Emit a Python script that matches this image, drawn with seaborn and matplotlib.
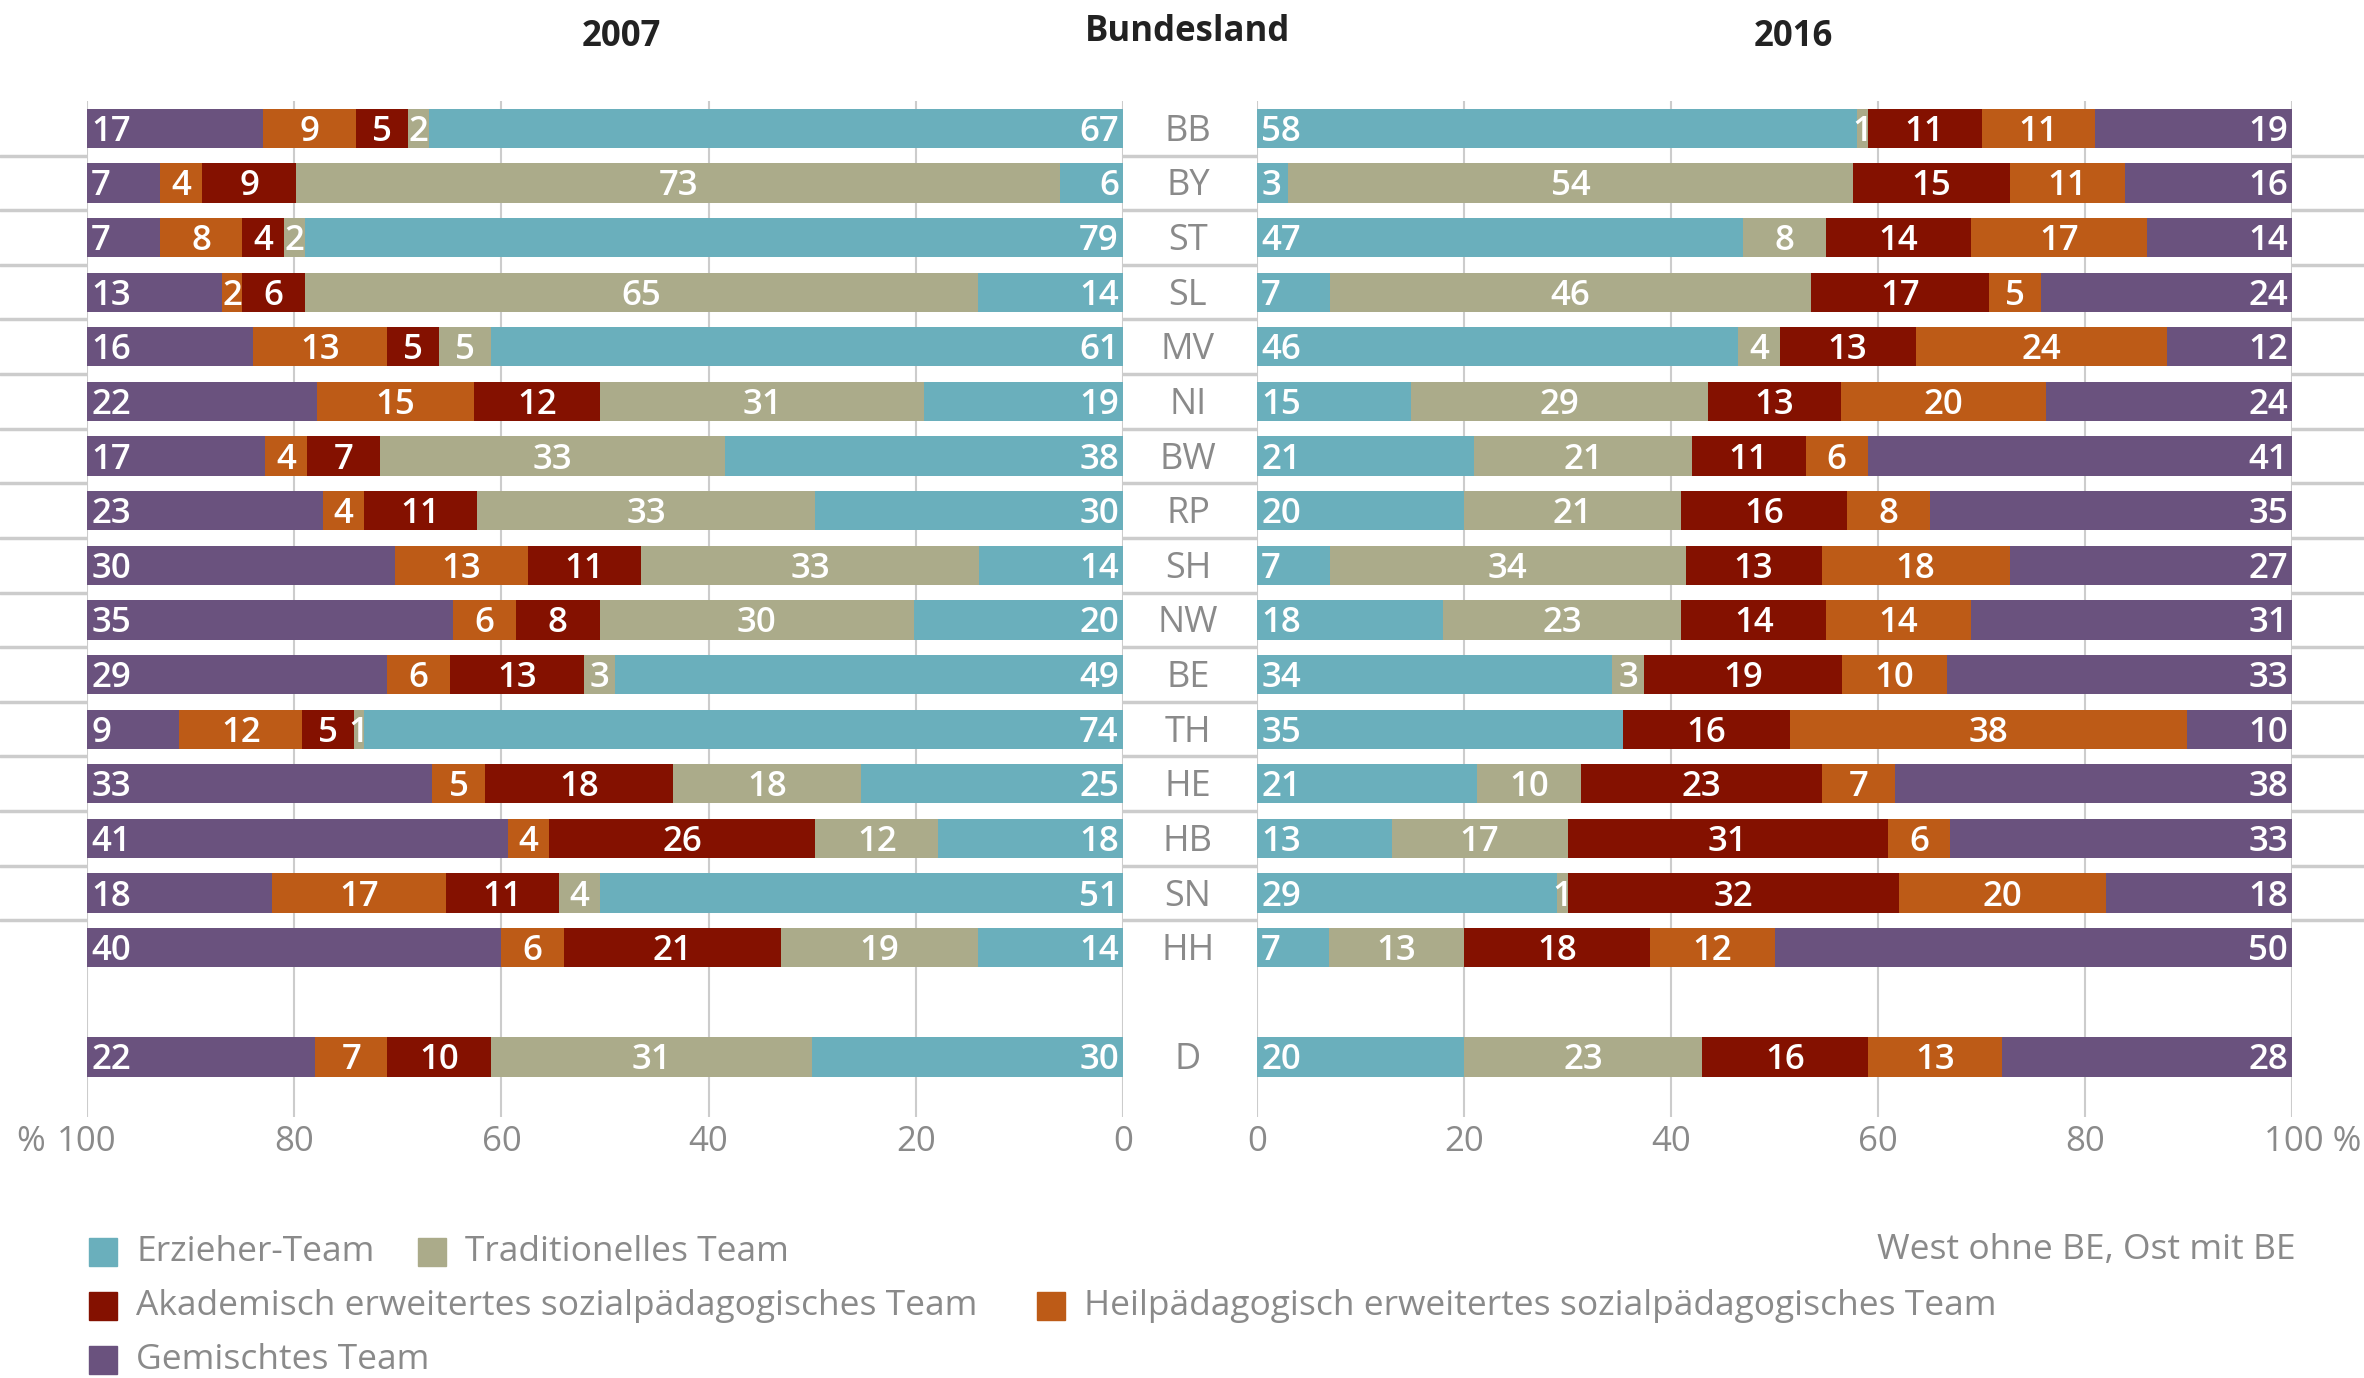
import numpy as np
import pandas as pd
import seaborn as sns
import matplotlib.pyplot as plt
import matplotlib.transforms as mtransforms
from matplotlib.lines import Line2D
from matplotlib.patches import Rectangle

# Daten
laender = ['BB', 'BY', 'ST', 'SL', 'MV', 'NI', 'BW', 'RP', 'SH', 'NW',
           'BE', 'TH', 'HE', 'HB', 'SN', 'HH', 'D']
teams = ['Erzieher-Team', 'Traditionelles Team',
         'Akademisch erweitertes sozialpädagogisches Team',
         'Heilpädagogisch erweitertes sozialpädagogisches Team',
         'Gemischtes Team']
farben = ['#6aafbc', '#abab8a', '#841100', '#bd5b17', '#6a527e']

erzieher_2007 = [67, 6, 79, 14, 61, 19, 38, 30, 14, 20, 49, 74, 25, 18, 51, 14, 30]
tradition_2007 = [2, 73, 2, 65, 5, 31, 33, 33, 33, 30, 3, 1, 18, 12, 4, 19, 31]
akadem_2007 = [5, 9, 4, 6, 5, 12, 7, 11, 11, 8, 13, 5, 18, 26, 11, 21, 10]
heilpaed_2007 = [9, 4, 8, 2, 13, 15, 4, 4, 13, 6, 6, 12, 5, 4, 17, 6, 7]
gemischt_2007 = [17, 7, 7, 13, 16, 22, 17, 23, 30, 35, 29, 9, 33, 41, 18, 40, 22]

erzieher_2016 = [58, 3, 47, 7, 46, 15, 21, 20, 7, 18, 34, 35, 21, 13, 29, 7, 20]
tradition_2016 = [1, 54, 8, 46, 4, 29, 21, 21, 34, 23, 3, 0, 10, 17, 1, 13, 23]
akadem_2016 = [11, 15, 14, 17, 13, 13, 11, 16, 13, 14, 19, 16, 23, 31, 32, 18, 16]
heilpaed_2016 = [11, 11, 17, 5, 24, 20, 6, 8, 18, 14, 10, 38, 7, 6, 20, 12, 13]
gemischt_2016 = [19, 16, 14, 24, 12, 24, 41, 35, 27, 31, 33, 10, 38, 33, 18, 50, 28]

werte_2007 = [erzieher_2007, tradition_2007, akadem_2007, heilpaed_2007, gemischt_2007]
werte_2016 = [erzieher_2016, tradition_2016, akadem_2016, heilpaed_2016, gemischt_2016]

sns.set_theme(style='white')
plt.rcParams['font.family'] = ['Open Sans', 'DejaVu Sans']

grau = '#8a8a8a'
W, H = 2364, 1378
fig = plt.figure(figsize=(W / 100, H / 100), dpi=100)

y_oben, y_unten = 101, 1117
axL = fig.add_axes([87 / W, 1 - y_unten / H, (1123 - 87) / W, (y_unten - y_oben) / H])
axR = fig.add_axes([1257 / W, 1 - y_unten / H, (2292 - 1257) / W, (y_unten - y_oben) / H])

order = laender[:-1] + [' ', 'D']


def panel(ax, werte, links):
    df = pd.DataFrame(np.array(werte).T, index=laender, columns=teams)
    # gerundete Werte summieren sich nicht immer auf 100 -> Balkenlaenge auf 100 % skalieren
    anteil = df.div(df.sum(axis=1), axis=0) * 100
    cum = anteil.cumsum(axis=1)
    # gestapelt: von der Gesamtsumme abwaerts uebereinander zeichnen
    for k in range(4, -1, -1):
        d = pd.DataFrame({'land': laender, 'wert': cum.iloc[:, k].values})
        sns.barplot(data=d, x='wert', y='land', order=order, orient='h',
                    color=farben[k], width=0.72, saturation=1, linewidth=0,
                    errorbar=None, ax=ax)
    # Beschriftung
    for land in laender:
        yi = order.index(land)
        for k in range(5):
            v = df.loc[land, teams[k]]
            if v <= 0:
                continue
            ende = cum.loc[land, teams[k]]
            start = ende - anteil.loc[land, teams[k]]
            if k == 0:
                x, ha, dx = start, ('right' if links else 'left'), (-3 if links else 3)
            elif k == 4:
                x, ha, dx = ende, ('left' if links else 'right'), (3 if links else -3)
            else:
                x, ha, dx = (start + ende) / 2, 'center', 0
            ax.annotate(str(v), xy=(x, yi), xytext=(dx, -2.5), textcoords='offset points',
                        ha=ha, va='center', color='white', fontsize=25,
                        fontweight='semibold', annotation_clip=False)
    ax.set_xlim((100, 0) if links else (0, 100))
    ax.set_ylim(18.1, -0.5)
    ax.set_xticks(range(0, 101, 20))
    ax.set_yticks([])
    ax.set_xlabel('')
    ax.set_ylabel('')
    ax.grid(axis='x', color='#cccccc', lw=1.5)
    ax.grid(axis='y', visible=False)
    ax.set_axisbelow(True)
    for s in ax.spines.values():
        s.set_visible(False)
    ax.tick_params(axis='x', length=0, pad=6, labelsize=25, labelcolor=grau)


panel(axL, werte_2007, True)
panel(axR, werte_2016, False)

axL.set_xticklabels(['0', '20', '40', '60', '80', '100'])
axR.set_xticklabels(['0', '20', '40', '60', '80', '100 %'])
lab = axR.get_xticklabels()[-1]
lab.set_transform(lab.get_transform() + mtransforms.ScaledTranslation(15 / 72, 0, fig.dpi_scale_trans))
axL.annotate('%', xy=(100, 0), xycoords=('data', 'axes fraction'), xytext=(-30, -6),
             textcoords='offset points', ha='right', va='top', fontsize=25, color=grau)

# Trennlinien ueber die ganze Breite
trans = mtransforms.blended_transform_factory(fig.transFigure, axL.transData)
for y in np.arange(0.5, 15, 1):
    fig.add_artist(Line2D([0, 1], [y, y], transform=trans, color='#cccccc', lw=2.5, zorder=0))

# Laenderkuerzel in der Mitte
for land in laender:
    axL.annotate(land, xy=(1188 / W, order.index(land)), xycoords=trans,
                 xytext=(0, -2.5), textcoords='offset points', ha='center', va='center',
                 fontsize=26, color=grau, annotation_clip=False)

fig.text(621 / W, 1 - 37 / H, '2007', ha='center', va='center', fontsize=25,
         fontweight='bold', color='#222222')
fig.text(1188 / W, 1 - 32 / H, 'Bundesland', ha='center', va='center', fontsize=25,
         fontweight='bold', color='#222222')
fig.text(1793 / W, 1 - 37 / H, '2016', ha='center', va='center', fontsize=25,
         fontweight='bold', color='#222222')

# Legende
leg = [(0, 89, 1252), (1, 418, 1252), (2, 89, 1306), (3, 1037, 1306), (4, 89, 1360)]
for k, x, y in leg:
    fig.add_artist(Rectangle((x / W, 1 - (y + 14) / H), 28 / W, 28 / H,
                             transform=fig.transFigure, color=farben[k]))
    fig.text((x + 47) / W, 1 - y / H, teams[k], ha='left', va='center',
             fontsize=25.5, color=grau)
fig.text(2296 / W, 1 - 1250 / H, 'West ohne BE, Ost mit BE', ha='right', va='center',
         fontsize=25.5, color=grau)

fig.savefig('out.png', dpi=100)
